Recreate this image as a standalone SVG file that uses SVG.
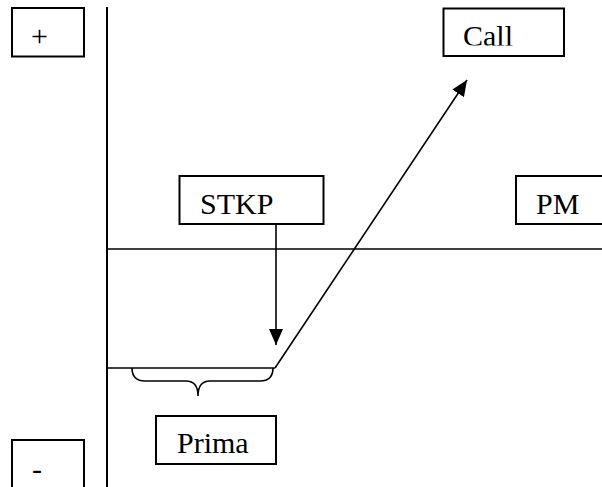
<svg xmlns="http://www.w3.org/2000/svg" width="602" height="487" viewBox="0 0 602 487">
<style>
.box{fill:#fff;stroke:#000;stroke-width:2}
.ln{fill:none;stroke:#000;stroke-width:1.6}
.t{font-family:"Liberation Serif","Times New Roman",serif;font-size:30px;fill:#000}
</style>
<defs>
<marker id="ah" viewBox="0 0 16 14" refX="16" refY="7" markerWidth="16" markerHeight="14" markerUnits="userSpaceOnUse" orient="auto">
<path d="M0,0 L16,7 L0,14 Z" fill="#000"/>
</marker>
<clipPath id="callclip"><rect x="440" y="0" width="130" height="45.5"/></clipPath>
</defs>
<rect width="602" height="487" fill="#fff"/>
<g id="connectors">
<line class="ln" x1="107" y1="7" x2="107" y2="487" style="stroke-width:2"/>
<line class="ln" x1="107" y1="249" x2="602" y2="249"/>
<line class="ln" x1="107" y1="368" x2="275" y2="368"/>
<line class="ln" x1="275" y1="368" x2="467" y2="80" marker-end="url(#ah)"/>
<line class="ln" x1="276" y1="224" x2="276" y2="345" marker-end="url(#ah)"/>
<path class="ln" d="M132,368 Q132,381 145,381 L186,381 Q198,381 198,396 Q198,381 210,381 L260,381 Q273,381 273,368"/>
</g>
<g id="plus">
<rect class="box" x="12" y="8" width="72" height="48.5"/>
<text class="t" x="31" y="46">+</text>
</g>
<g id="minus">
<rect class="box" x="12" y="440" width="72" height="60"/>
<text class="t" x="32" y="479">-</text>
</g>
<g id="call">
<rect class="box" x="443.5" y="8.5" width="120.5" height="47.5"/>
<text class="t" x="463" y="46" clip-path="url(#callclip)">Call</text>
</g>
<g id="stkp">
<rect class="box" x="179.5" y="176" width="144" height="48"/>
<text class="t" x="200" y="214">STKP</text>
</g>
<g id="pm">
<rect class="box" x="516" y="176" width="100" height="48"/>
<text class="t" x="536" y="214">PM</text>
</g>
<g id="prima">
<rect class="box" x="156" y="416" width="120" height="48"/>
<text class="t" x="177" y="453">Prima</text>
</g>
</svg>
